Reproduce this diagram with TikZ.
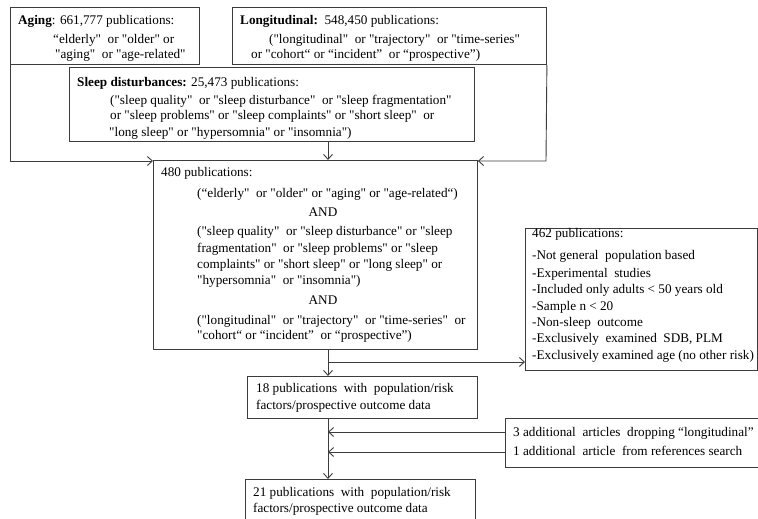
\documentclass[tikz,border=0pt]{standalone}
\usepackage{fontspec}
\setmainfont{Liberation Serif}[Ligatures=TeXOff]
\usetikzlibrary{arrows.meta}
\definecolor{ln}{RGB}{60,60,60}
\begin{document}
\begin{tikzpicture}[x=1pt,y=-1pt,
  box/.style={draw=ln,line width=0.9pt,inner sep=0pt,anchor=north west},
  txt/.style={anchor=base west,inner sep=0pt,font=\fontsize{13.2}{15}\selectfont},
  ctxt/.style={anchor=base,inner sep=0pt,font=\fontsize{13.2}{15}\selectfont},
  conn/.style={draw=ln,line width=0.9pt},
  arr/.style={conn,-{Straight Barb[length=5pt,width=9pt]}}]
\useasboundingbox (0,0) rectangle (758,519);
% boxes
\node[box,minimum width=189pt,minimum height=57pt] (aging) at (10,7) {};
\node[box,minimum width=314pt,minimum height=57pt] (longi) at (232,7) {};
\node[box,minimum width=405pt,minimum height=74pt] (sleep) at (69,67) {};
\node[box,minimum width=324pt,minimum height=189pt] (main) at (153,160) {};
\node[box,minimum width=232pt,minimum height=142pt] (excl) at (525,228) {};
\node[box,minimum width=230pt,minimum height=42pt] (b18) at (247,376) {};
\node[box,minimum width=260pt,minimum height=49pt] (add) at (505,418) {};
\node[box,minimum width=230pt,minimum height=50pt] (b21) at (245,479) {};
% texts
\node[txt] (ta1) at (18,25) {\textbf{Aging}: 661,777 publications:};
\node[txt] (ta2) at (53,44) {“elderly"\ \ or "older" or};
\node[txt] (ta3) at (55,59) {"aging"\ \ or "age-related"};
\node[txt] (tl1) at (240,25) {\textbf{Longitudinal:}\ \ 548,450 publications:};
\node[txt] (tl2) at (269,44) {("longitudinal"\ \ or "trajectory"\ \ or "time-series"};
\node[txt] (tl3) at (251,59) {or "cohort“ or “incident”\ \ or “prospective”)};
\node[txt] (ts1) at (77,86) {\textbf{Sleep disturbances:} 25,473 publications:};
\node[txt] (ts2) at (110,104) {("sleep quality"\ \ or "sleep disturbance"\ \ or "sleep fragmentation"};
\node[txt] (ts3) at (110,119) {or "sleep problems" or "sleep complaints" or "short sleep"\ \ or};
\node[txt] (ts4) at (109,136) {"long sleep" or "hypersomnia" or "insomnia")};
\node[txt] (tm1) at (161,176) {480 publications:};
\node[txt] (tm2) at (197,197) {(“elderly"\ \ or "older" or "aging" or "age-related“)};
\node[ctxt] (tm3) at (323,216) {AND};
\node[txt] (tm4) at (197,235) {("sleep quality"\ \ or "sleep disturbance" or "sleep};
\node[txt] (tm5) at (197,252) {fragmentation"\ \ or "sleep problems" or "sleep};
\node[txt] (tm6) at (197,268) {complaints" or "short sleep" or "long sleep" or};
\node[txt] (tm7) at (197,284) {"hypersomnia"\ \ or "insomnia")};
\node[ctxt] (tm8) at (323,304) {AND};
\node[txt] (tm9) at (197,324) {("longitudinal"\ \ or "trajectory"\ \ or "time-series"\ \ or};
\node[txt] (tm10) at (197,339) {"cohort“ or “incident”\ \ or “prospective”)};
\node[txt] (te1) at (532,237) {462 publications:};
\node[txt] (te2) at (532,259) {-Not general\ \ population based};
\node[txt] (te3) at (532,277) {-Experimental\ \ studies};
\node[txt] (te4) at (532,293) {-Included only adults < 50 years old};
\node[txt] (te5) at (532,310) {-Sample n < 20};
\node[txt] (te6) at (532,326) {-Non-sleep\ \ outcome};
\node[txt] (te7) at (532,342) {-Exclusively\ \ examined\ \ SDB, PLM};
\node[txt] (te8) at (532,359) {-Exclusively examined age (no other risk)};
\node[txt] (t181) at (256,392) {18 publications\ \ with\ \ population/risk};
\node[txt] (t182) at (256,409) {factors/prospective outcome data};
\node[txt] (tad1) at (513,436) {3 additional\ \ articles\ \ dropping “longitudinal”};
\node[txt] (tad2) at (513,455) {1 additional\ \ article\ \ from references search};
\node[txt] (t211) at (253,496) {21 publications\ \ with\ \ population/risk};
\node[txt] (t212) at (253,512) {factors/prospective outcome data};
% connectors
\coordinate (lc) at (10,161);
\coordinate (rc) at (546,161);
\draw[arr] (aging.south west) -- (lc) -- (main.west |- lc);
\draw[arr] (longi.south east) -- (rc) -- (main.east |- rc);
\draw[arr] (sleep.south -| 328,0) -- (main.north -| 328,0);
\coordinate (br) at (328,362);
\draw[arr] (main.south -| br) -- (b18.north -| br);
\draw[arr] (br) -- (excl.west |- br);
\draw[arr] (b18.south -| br) -- (b21.north -| br);
\coordinate (a1) at (505,432);
\coordinate (a2) at (505,452);
\draw[arr] (a1) -- (br |- a1);
\draw[arr] (a2) -- (br |- a2);
\end{tikzpicture}
\end{document}
